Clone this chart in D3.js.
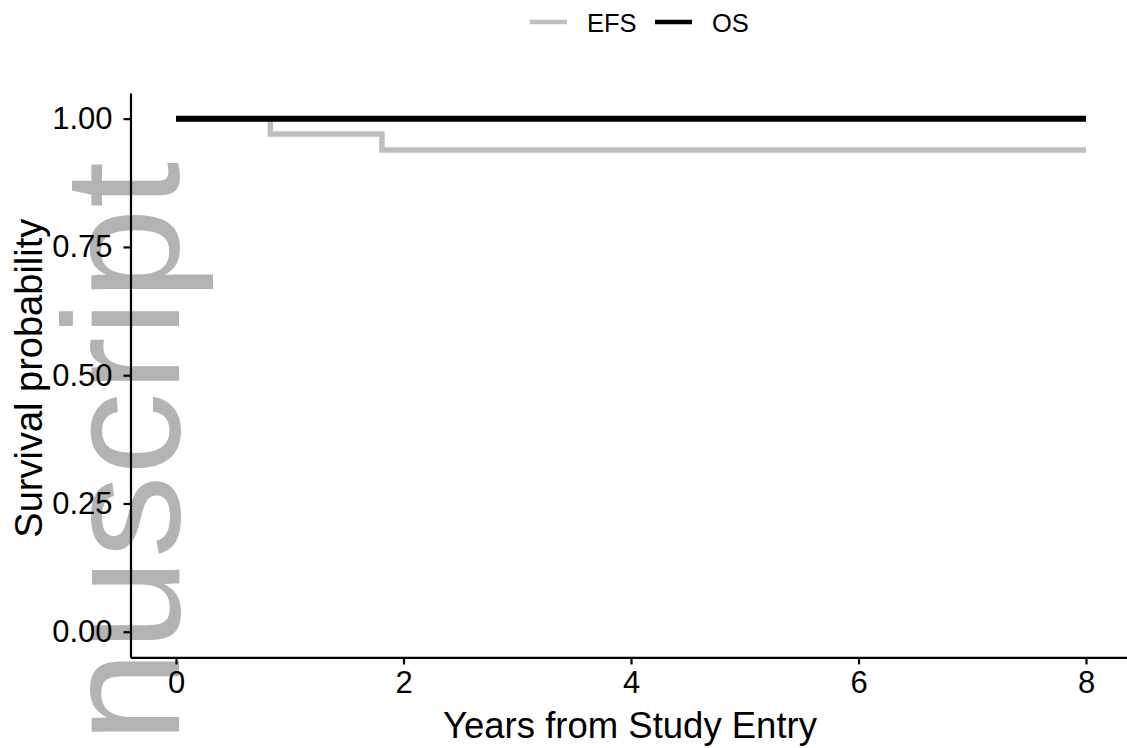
<!DOCTYPE html>
<html>
<head>
<meta charset="utf-8">
<script src="https://cdn.jsdelivr.net/npm/d3@7"></script>
<style>
  body { margin: 0; background: #ffffff; }
  svg { display: block; }
</style>
</head>
<body>
<svg class="chart"></svg>
<script>
const WIDTH = 1127;
const HEIGHT = 748;
const FONT = "Liberation Sans, Arial, Helvetica, sans-serif";

// data
var seriesNames = ["EFS", "OS"];
var seriesColors = ["#bebebe", "#000000"];
var efsTime = [0, 0.83, 1.81, 8];
var efsSurv = [1, 0.970, 0.939, 0.939];
var osTime = [0, 8];
var osSurv = [1, 1];
var xTicks = [0, 2, 4, 6, 8];
var yTicks = [0, 0.25, 0.5, 0.75, 1];

var chart = d3.select(".chart").attr("width", WIDTH).attr("height", HEIGHT);

// panel, with ggplot's 5% expansion
var x = d3.scaleLinear().domain([-0.4, 8.4]).range([130.5, 1131.5]);
var y = d3.scaleLinear().domain([-0.05, 1.05]).range([657.4, 93]);

// watermark goes behind everything
chart.append("text")
     .attr("transform", "translate(179,743) rotate(-90)")
     .attr("font-family", FONT)
     .attr("font-size", "166px")
     .attr("fill", "#b3b3b3")
     .text("nuscript");

// curves
var series = [
   { time: efsTime, surv: efsSurv },
   { time: osTime, surv: osSurv }
];
var line = d3.line()
             .x(function(d) { return x(d[0]); })
             .y(function(d) { return y(d[1]); })
             .curve(d3.curveStepAfter);

chart.append("g")
     .selectAll("path")
     .data(series)
     .enter().append("path")
     .attr("d", function(s) { return line(d3.zip(s.time, s.surv)); })
     .attr("fill", "none")
     .attr("stroke", function(s, i) { return seriesColors[i]; })
     .attr("stroke-width", function(s, i) { return i == 1 ? 6 : 5.5; });

// axes
var xAxis = chart.append("g")
                 .attr("transform", "translate(0," + y.range()[0] + ")")
                 .call(d3.axisBottom(x).tickValues(xTicks).tickSize(7).tickPadding(7).tickSizeOuter(0));
var yAxis = chart.append("g")
                 .attr("transform", "translate(" + x.range()[0] + ",0)")
                 .call(d3.axisLeft(y).tickValues(yTicks).tickFormat(d3.format(".2f")).tickSize(7).tickPadding(11).tickSizeOuter(0));

[xAxis, yAxis].forEach(function(a) {
   a.select(".domain").attr("stroke", "#000").attr("stroke-width", 2.2);
   a.selectAll(".tick line").attr("stroke", "#000").attr("stroke-width", 2.2);
   a.selectAll(".tick text")
    .attr("fill", "#000")
    .attr("font-family", FONT)
    .attr("font-size", "31px");
});

// axis titles
chart.append("text")
     .attr("x", (130.5 + 1131.5) / 2 - 1)
     .attr("y", 738)
     .attr("text-anchor", "middle")
     .attr("font-family", FONT)
     .attr("font-size", "36.5px")
     .text("Years from Study Entry");

chart.append("text")
     .attr("transform", "translate(42," + ((93 + 657.4) / 2 + 3) + ") rotate(-90)")
     .attr("text-anchor", "middle")
     .attr("font-family", FONT)
     .attr("font-size", "38px")
     .text("Survival probability");

// legend on top
var legendX = [530, 655];
var legend = chart.append("g")
                  .selectAll("g")
                  .data(seriesNames)
                  .enter().append("g")
                  .attr("transform", function(d, i) { return "translate(" + legendX[i] + ",22)"; });
legend.append("line")
      .attr("x1", 0).attr("x2", 37)
      .attr("stroke", function(d, i) { return seriesColors[i]; })
      .attr("stroke-width", 4.5);
legend.append("text")
      .attr("x", 57)
      .attr("y", 10)
      .attr("font-family", FONT)
      .attr("font-size", "25.5px")
      .text(function(d) { return d; });
</script>
</body>
</html>
